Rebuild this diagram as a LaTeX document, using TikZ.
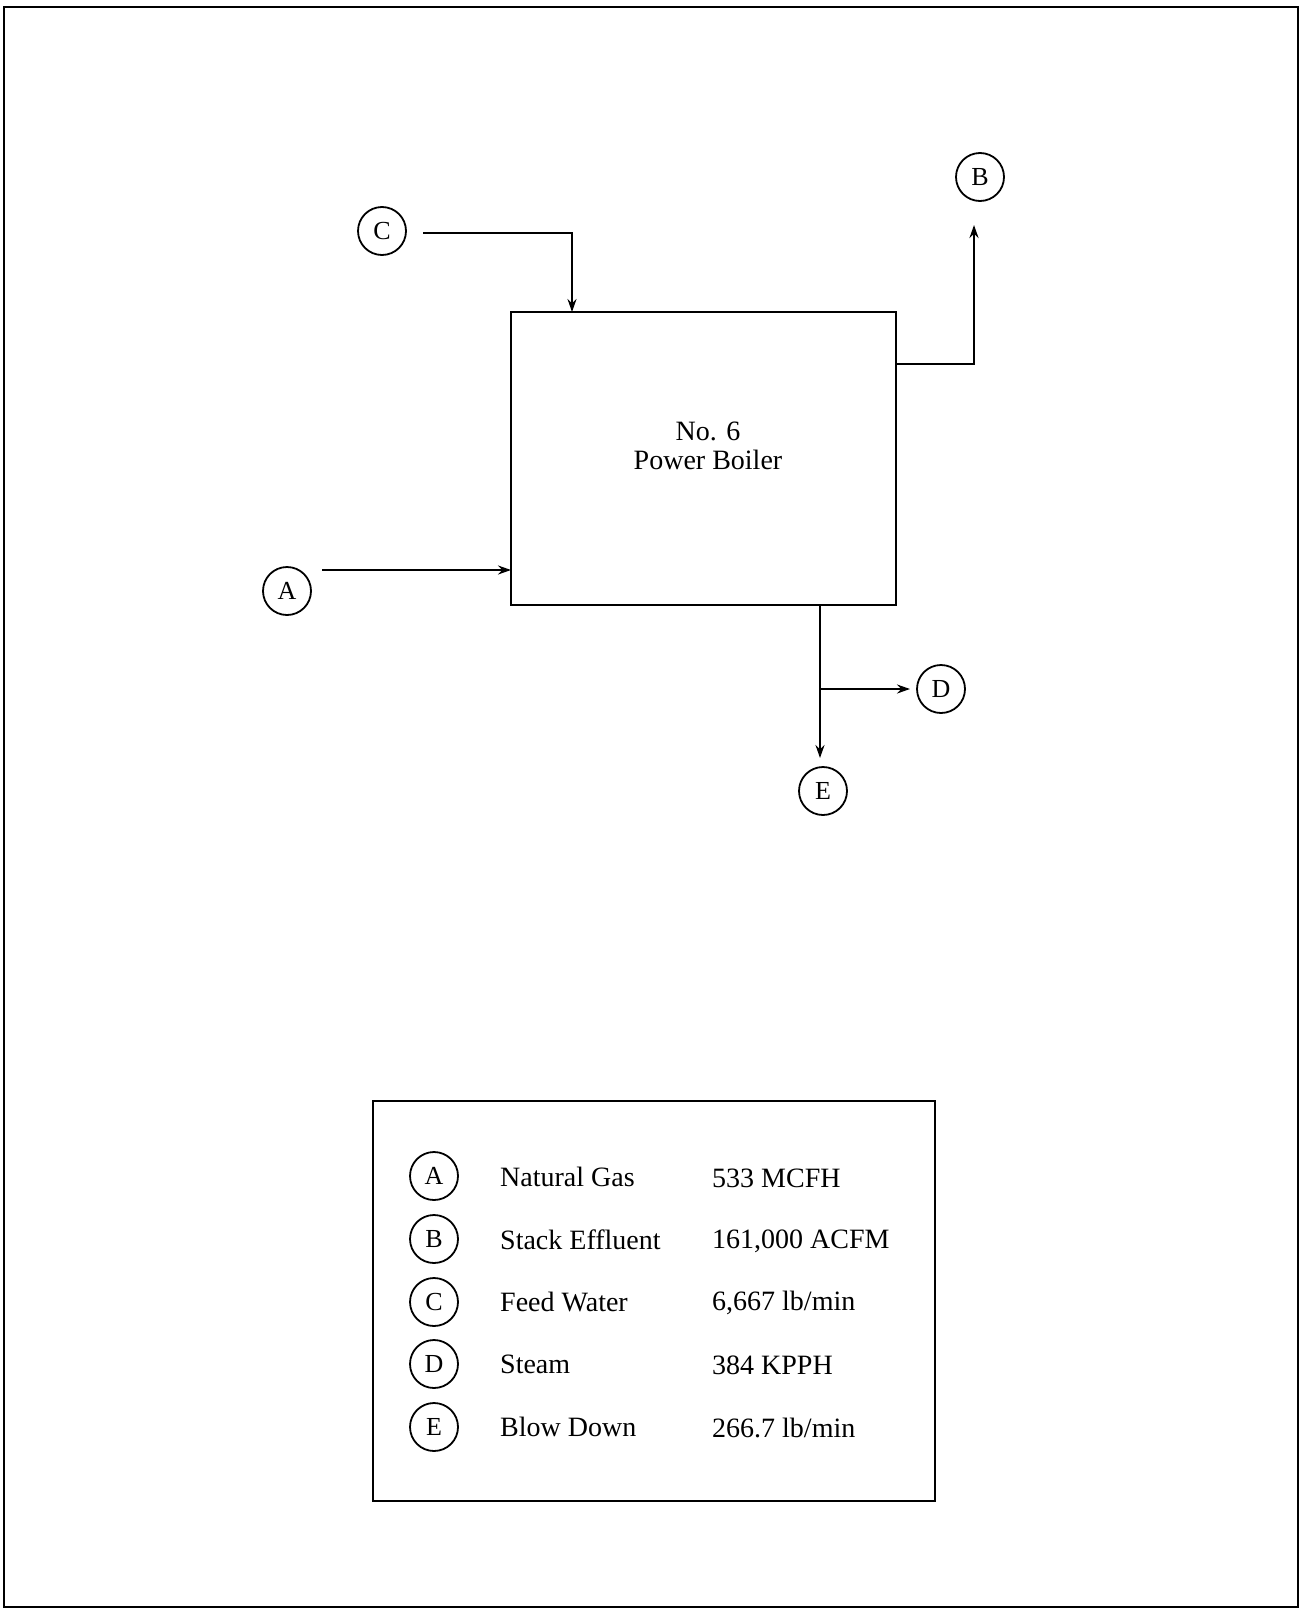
\documentclass[tikz,border=0pt]{standalone}
\usepackage{fontspec}
\setmainfont{Liberation Serif}
\usetikzlibrary{arrows.meta}
\begin{document}
\begin{tikzpicture}[x=1pt,y=-1pt,
  lbl/.style={circle, draw, line width=1.8pt, minimum size=48pt, inner sep=0pt, font=\fontsize{26}{26}\selectfont},
  arr/.style={line width=2.2pt, -{Stealth[length=13pt,width=9pt]}},
  txt/.style={font=\fontsize{28}{29}\selectfont, inner sep=0pt},
  frame/.style={draw, line width=2.8pt}]
\useasboundingbox (0,0) rectangle (1307,1611);
\draw[frame] (4,7) rectangle (1298,1607);
% boiler
\node[draw, line width=2.8pt, minimum width=385pt, minimum height=293pt, inner sep=0pt] (box) at (703.5,458.5) {};
\node[txt, align=center] (boxlabel) at (708,446) {No. 6\\Power Boiler};
% stream labels
\node[lbl] (C) at (382,231) {C};
\node[lbl] (B) at (980,177) {B};
\node[lbl] (A) at (287,591) {A};
\node[lbl] (D) at (941,689) {D};
\node[lbl] (E) at (823,791) {E};
% connector points
\coordinate (cstart) at (423,233);
\coordinate (cin) at (572,312);
\coordinate (bout) at (896,364);
\coordinate (btip) at (974,225);
\coordinate (astart) at (322,570);
\coordinate (ain) at (511,570);
\coordinate (eout) at (820,605);
\coordinate (dbr) at (820,689);
\coordinate (dtip) at (910,689);
\coordinate (etip) at (820,758);
% connectors
\draw[arr] (cstart) -| (cin);
\draw[arr] (bout) -| (btip);
\draw[arr] (astart) -- (ain);
\draw[arr] (eout) -- (etip);
\draw[arr] (dbr) -- (dtip);
% legend
\node[draw, line width=2.4pt, minimum width=562pt, minimum height=400pt, inner sep=0pt] (legend) at (654,1301) {};
\node[lbl] (LA) at (434,1176) {A};
\node[lbl] (LB) at (434,1239) {B};
\node[lbl] (LC) at (434,1302) {C};
\node[lbl] (LD) at (434,1364) {D};
\node[lbl] (LE) at (434,1427) {E};
\node[txt, anchor=west] (nA) at (500,1177) {Natural Gas};
\node[txt, anchor=west] (nB) at (500,1240) {Stack Effluent};
\node[txt, anchor=west] (nC) at (500,1302) {Feed Water};
\node[txt, anchor=west] (nD) at (500,1364) {Steam};
\node[txt, anchor=west] (nE) at (500,1427) {Blow Down};
\node[txt, anchor=west] (vA) at (712,1178) {533 MCFH};
\node[txt, anchor=west] (vB) at (712,1241) {161,000 ACFM};
\node[txt, anchor=west] (vC) at (712,1303) {6,667 lb/min};
\node[txt, anchor=west] (vD) at (712,1365) {384 KPPH};
\node[txt, anchor=west] (vE) at (712,1428) {266.7 lb/min};
\end{tikzpicture}
\end{document}
